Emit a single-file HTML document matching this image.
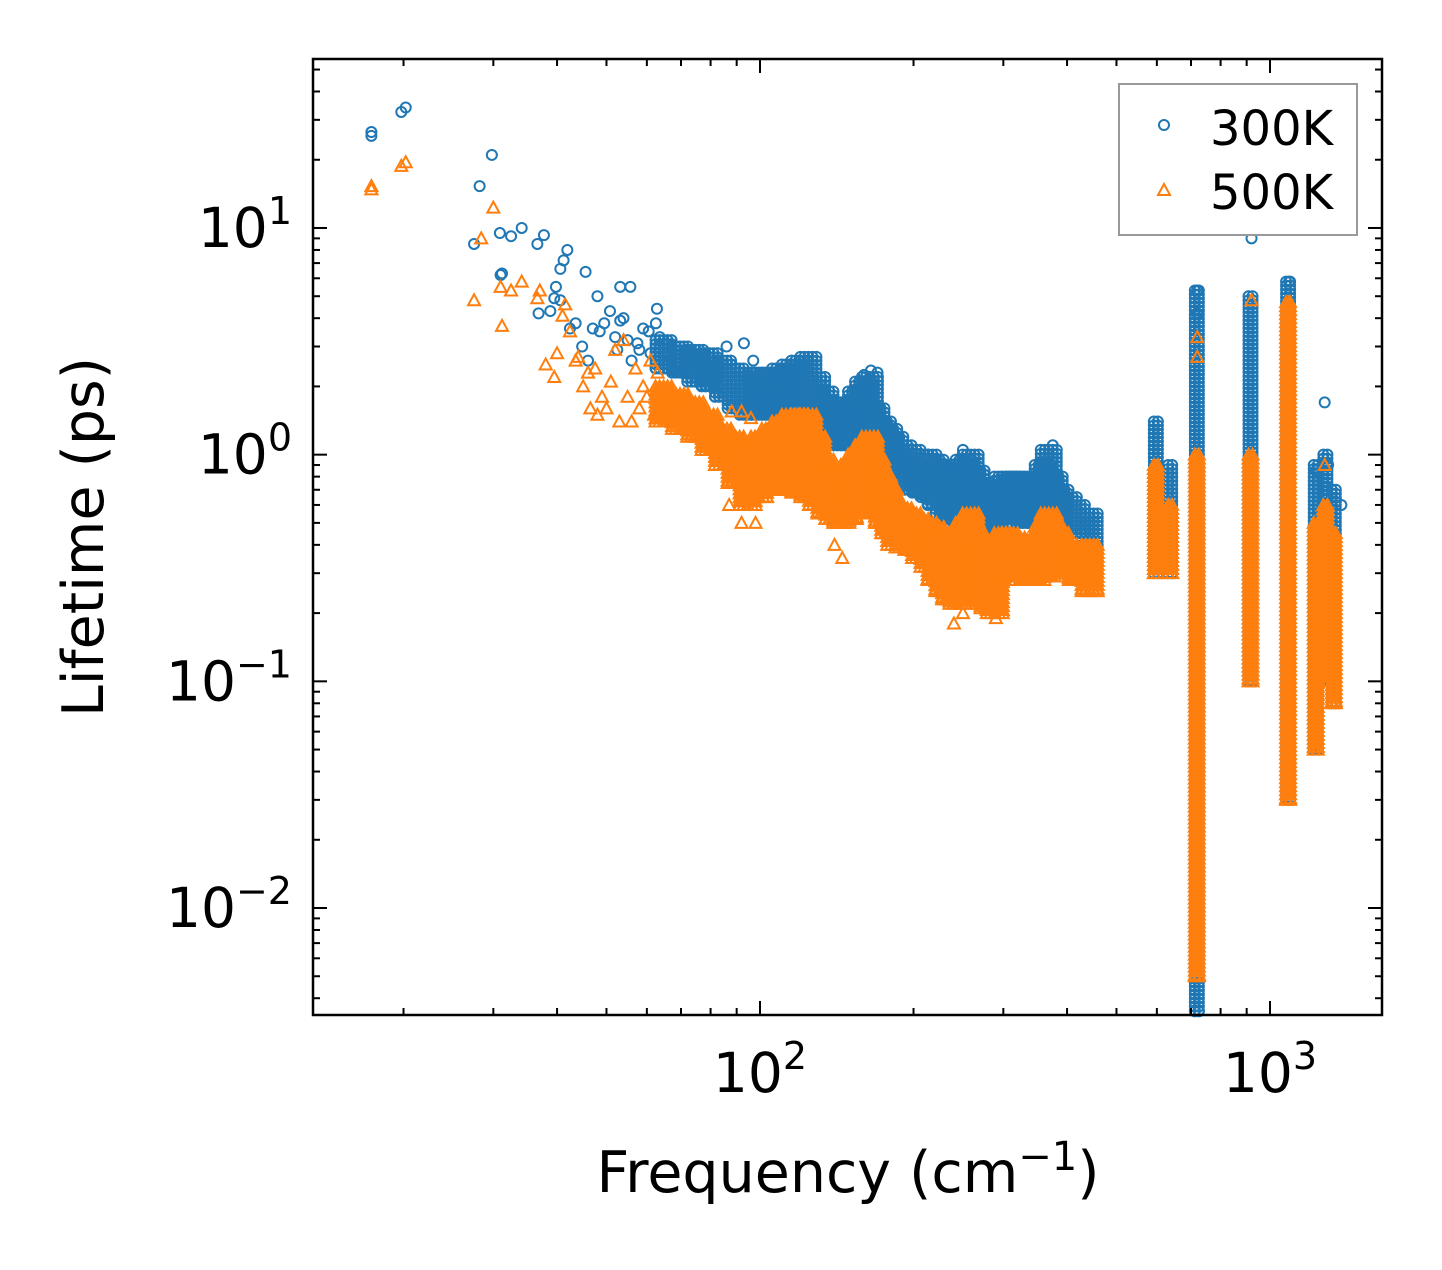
<!DOCTYPE html>
<html><head><meta charset="utf-8">
<style>
html,body{margin:0;padding:0;background:#fff;}
svg text{font-family:"DejaVu Sans","Liberation Sans",sans-serif;fill:#000;}
</style></head>
<body>
<svg id="chart" width="1442" height="1265" viewBox="0 0 1442 1265" xmlns="http://www.w3.org/2000/svg">
<rect x="0" y="0" width="1442" height="1265" fill="#fff"/>
<g id="marks300"></g>
<g id="marks500"></g>
<g id="axes"></g>
<text x="848" y="1192" font-size="57" text-anchor="middle">Frequency (cm<tspan dy="-22" font-size="40">−1</tspan><tspan dy="22">)</tspan></text>
<text transform="translate(103,537) rotate(-90)" font-size="57" text-anchor="middle">Lifetime (ps)</text>
<g>
<rect x="1119" y="84" width="238" height="151" fill="#fff" stroke="#999" stroke-width="2"/>
<circle cx="1164" cy="125" r="5" fill="none" stroke="#1f77b4" stroke-width="2"/>
<text x="1210" y="145" font-size="48">300K</text>
<path d="M1164,184 L1170,195 L1158,195 Z" fill="none" stroke="#ff7f0e" stroke-width="2"/>
<text x="1210" y="209" font-size="48">500K</text>
</g>
</svg>
<script>
// Axis config
const xTickValues = [100, 1000];
const xTickExps = ["2", "3"];
const yTickValues = [0.01, 0.1, 1, 10];
const yTickExps = ["−2", "−1", "0", "1"];

// Sparse points [frequency cm^-1, lifetime ps]
const pts300 = [[17.3,25.5],[17.3,26.5],[19.8,32.5],[20.2,34],[29.8,21],[28.2,15.3],[27.5,8.5],[30.9,9.5],[31,6.2],[31.2,6.3],[32.5,9.2],[34.1,10],[36.6,8.5],[37.7,9.3],[36.8,4.2],[38.8,4.3],[39.5,4.9],[39.8,5.5],[40.6,6.6],[40.6,4.8],[41.2,7.2],[41.9,8],[42.4,3.6],[43.5,3.8],[45.5,6.4],[44.8,3],[46,2.6],[47,3.6],[48,5],[48.5,3.5],[49.5,3.8],[50.8,4.3],[52,3.3],[52.5,2.9],[53.2,5.5],[53.2,3.9],[54,4.0],[55.7,5.5],[55,3.2],[56,2.6],[57.5,3.1],[58,2.9],[59,3.6],[60.5,3.5],[61,2.8],[62.8,4.4],[62.5,3.8],[63.6,3.3],[66,2.8],[70,2.3],[76,2.2],[86,3.0],[88,2.5],[93,3.1],[97,2.6],[105,2.1],[160,2.25],[165,2.35],[170,2.3],[250,1.05],[375,1.1],[720,5.3],[720,4.2],[920,9],[1090,5.8],[1280,1.7],[1230,0.85],[1300,0.9],[1380,0.6]];
const pts500 = [[17.3,14.8],[17.3,15.3],[19.8,18.8],[20.2,19.5],[27.5,4.8],[28.4,9],[30,12.3],[31,5.5],[31.2,3.7],[32.5,5.3],[34.1,5.8],[36.6,4.9],[37,5.3],[38,2.5],[39.5,2.2],[40,2.8],[41,4.1],[41.5,4.6],[42.4,3.5],[43.5,2.6],[44,2.7],[45,2.0],[46,2.3],[46.5,1.6],[47.5,2.4],[48,1.5],[49,1.8],[50,1.6],[51,2.1],[52,2.9],[53,1.4],[54,3.2],[55,1.8],[56,1.4],[57,2.4],[58,1.6],[59,2.0],[60,1.8],[61,2.6],[62,1.5],[63,2.3],[88,1.55],[92,1.55],[96,1.45],[87,0.6],[92,0.5],[98,0.5],[140,0.4],[145,0.35],[240,0.18],[250,0.2],[290,0.19],[720,3.3],[720,2.7],[920,4.8],[1090,4.7],[1230,0.45],[1280,0.9]];

// Dense regions [frequency, low lifetime, high lifetime]
const band300 = [[65,2.4,3.2],[70,2.3,3.0],[75,2.1,2.9],[80,2.0,2.8],[85,1.8,2.6],[90,1.6,2.4],[95,1.5,2.3],[100,1.5,2.3],[105,1.5,2.3],[110,1.6,2.4],[115,1.6,2.5],[120,1.5,2.6],[125,1.5,2.7],[130,1.3,2.2],[135,1.2,1.9],[140,1.1,1.7],[145,1.1,1.6],[150,1.1,1.7],[155,1.1,1.9],[160,1.0,2.1],[165,1.0,2.2],[170,0.95,1.6],[175,0.9,1.4],[180,0.85,1.3],[185,0.8,1.2],[192,0.75,1.1],[200,0.7,1.05],[207,0.68,1.0],[215,0.65,1.0],[222,0.6,0.95],[230,0.55,0.9],[237,0.52,0.88],[245,0.5,0.85],[252,0.5,0.95],[260,0.5,1.0],[267,0.47,0.85],[275,0.45,0.75],[282,0.42,0.7],[290,0.4,0.65],[300,0.55,0.8],[310,0.55,0.8],[320,0.52,0.8],[330,0.5,0.8],[340,0.5,0.78],[350,0.5,0.75],[360,0.5,0.9],[370,0.5,1.05],[380,0.47,0.8],[390,0.45,0.7],[405,0.45,0.65],[420,0.45,0.6],[445,0.3,0.55],[600,0.3,1.4],[640,0.3,0.9],[722,0.0035,5.3],[920,0.1,5.0],[1090,0.03,5.8],[1235,0.05,0.9],[1290,0.1,1.0],[1340,0.08,0.7]];
const band500 = [[65,1.4,2.0],[70,1.3,1.85],[75,1.2,1.7],[80,1.05,1.5],[85,0.9,1.3],[90,0.75,1.2],[95,0.6,1.1],[100,0.65,1.2],[105,0.7,1.3],[110,0.7,1.4],[115,0.7,1.5],[120,0.68,1.5],[125,0.65,1.5],[130,0.6,1.2],[135,0.55,0.95],[140,0.52,0.85],[145,0.5,0.8],[150,0.52,0.9],[155,0.55,1.0],[160,0.58,1.1],[165,0.6,1.2],[170,0.55,0.95],[175,0.5,0.8],[180,0.45,0.7],[185,0.4,0.6],[192,0.39,0.58],[200,0.38,0.55],[207,0.35,0.52],[215,0.32,0.5],[222,0.28,0.48],[230,0.25,0.45],[237,0.23,0.45],[245,0.22,0.45],[252,0.24,0.5],[260,0.25,0.55],[267,0.23,0.45],[275,0.22,0.4],[282,0.21,0.38],[290,0.2,0.35],[300,0.3,0.45],[310,0.3,0.45],[320,0.29,0.43],[330,0.28,0.42],[340,0.28,0.41],[350,0.28,0.4],[360,0.29,0.48],[370,0.3,0.55],[380,0.3,0.48],[390,0.3,0.45],[405,0.29,0.4],[420,0.28,0.38],[445,0.25,0.4],[600,0.3,0.9],[640,0.3,0.6],[722,0.005,1.0],[920,0.1,1.0],[1090,0.03,4.7],[1235,0.05,0.5],[1290,0.1,0.6],[1340,0.08,0.45]];

// Plot geometry
const PX0=313, PX1=1382, PY0=59, PY1=1015;
const xMinLog = 2 - (760-313)/510, xMaxLog = 3 + (1382-1270)/510;
const yMaxLog = 1 + (228-59)/226.7, yMinLog = -2 - (1015-908)/226.7;
function xs(f){ return PX0 + (Math.log10(f)-xMinLog)/(xMaxLog-xMinLog)*(PX1-PX0); }
function ys(v){ return PY1 - (Math.log10(v)-yMinLog)/(yMaxLog-yMinLog)*(PY1-PY0); }

const NS="http://www.w3.org/2000/svg";
function mk(tag, attrs, parent){
  const e=document.createElementNS(NS,tag);
  for(const k in attrs) e.setAttribute(k, attrs[k]);
  parent.appendChild(e); return e;
}
function circle(g,x,y){
  const c=mk('circle',{cx:x,cy:y,r:5,fill:'none',stroke:'#1f77b4','stroke-width':2},g);
  
  
}
function tri(g,x,y){
  const p=mk('path',{d:`M${x},${y-6} L${x+6},${y+5} L${x-6},${y+5} Z`,fill:'none',stroke:'#ff7f0e','stroke-width':2},g);
  
  
}
function drawBand(g, band, fn){
  band.forEach(([f,lo,hi])=>{
    const cx=xs(f), yTop=ys(hi), yBot=ys(lo);
    const w = f>=590 ? 3 : 9;
    for(let dx=-w; dx<=w; dx+=4){
      for(let y=yTop; y<=yBot; y+=4) fn(g, cx+dx, y);
      fn(g, cx+dx, yBot);
    }
  });
}
const g3=document.getElementById('marks300'), g5=document.getElementById('marks500');
drawBand(g3, band300, circle);
pts300.forEach(([f,v])=>circle(g3, xs(f), ys(v)));
drawBand(g5, band500, tri);
pts500.forEach(([f,v])=>tri(g5, xs(f), ys(v)));

// Axes
const ax=document.getElementById('axes');
const frame=mk('rect',{x:PX0,y:PY0,width:PX1-PX0,height:PY1-PY0,fill:'none',stroke:'#000','stroke-width':2.5},ax);


function tickLine(x1,y1,x2,y2){ mk('line',{x1,y1,x2,y2,stroke:'#000','stroke-width':2},ax); }
for(let d=1; d<=3; d++){
  for(let m=1; m<=9; m++){
    const f=m*Math.pow(10,d); const x=xs(f);
    if(x<PX0||x>PX1) continue;
    const L = m===1?14:7;
    tickLine(x,PY1,x,PY1-L); tickLine(x,PY0,x,PY0+L);
  }
}
xTickValues.forEach((v,i)=>{
  const t=mk('text',{x:xs(v),y:1092,'font-size':55,'text-anchor':'middle'},ax);
  
  
  t.innerHTML='10<tspan dy="-23" font-size="38">'+xTickExps[i]+'</tspan>';
});
for(let d=-3; d<=1; d++){
  for(let m=1; m<=9; m++){
    const v=m*Math.pow(10,d); const y=ys(v);
    if(y<PY0||y>PY1) continue;
    const L = m===1?14:7;
    tickLine(PX0,y,PX0+L,y); tickLine(PX1,y,PX1-L,y);
  }
}
yTickValues.forEach((v,i)=>{
  const t=mk('text',{x:292,y:ys(v)+19,'font-size':55,'text-anchor':'end'},ax);
  
  
  t.innerHTML='10<tspan dy="-23" font-size="38">'+yTickExps[i]+'</tspan>';
});
</script>
</body></html>
